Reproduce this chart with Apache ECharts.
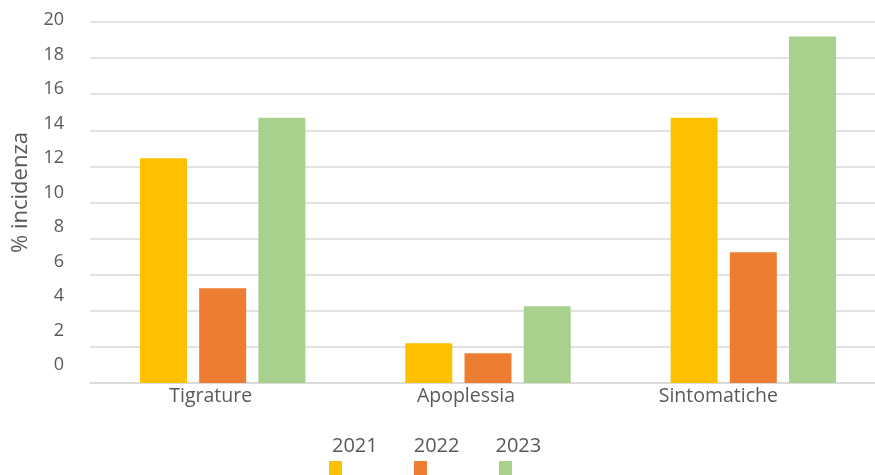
<!DOCTYPE html>
<html>
<head>
<meta charset="utf-8">
<script src="https://cdn.jsdelivr.net/npm/echarts@6/dist/echarts.min.js"></script>
<style>
  html, body { margin: 0; padding: 0; background: #fff; overflow: hidden; }
  #main { width: 890px; height: 475px; }
</style>
</head>
<body>
<div id="main"></div>
<script>
  // categorie e valori (% incidenza)
  const categories = ['Tigrature', 'Apoplessia', 'Sintomatiche'];
  const years = ['2021', '2022', '2023'];
  const v2021 = [12.45, 2.2, 14.7];
  const v2022 = [5.25, 1.65, 7.25];
  const v2023 = [14.7, 4.25, 19.2];
  const colors = ['#ffc000', '#ed7d31', '#a9d18e'];

  const chart = echarts.init(document.getElementById('main'));
  const txt = '#595959';
  const font = '"Open Sans", "Liberation Sans", sans-serif';

  const option = {
    animation: false,
    color: colors,
    textStyle: { fontFamily: font },
    grid: [
      { left: 90, top: 22, width: 796, height: 361 },
      // griglia solo per le etichette dell'asse y
      { left: 72, top: 20, width: 1, height: 345 }
    ],
    xAxis: [
      {
        type: 'category',
        gridIndex: 0,
        data: categories,
        axisLine: { lineStyle: { color: '#d9d9d9', width: 1.5 } },
        axisTick: { show: false },
        axisLabel: {
          color: txt, fontSize: 19.5, margin: 3,
          formatter: (v, i) => '{c' + i + '|' + v + '}',
          rich: {
            c0: { padding: [0, 24, 0, 0], color: txt, fontSize: 19.5 },
            c1: { padding: [0, 44, 0, 0], color: txt, fontSize: 19.5 },
            c2: { padding: [0, 70, 0, 0], color: txt, fontSize: 19.5 }
          }
        }
      },
      { type: 'value', gridIndex: 1, show: false }
    ],
    yAxis: [
      {
        type: 'value',
        gridIndex: 0,
        min: 0, max: 20, interval: 2,
        axisLabel: { show: false },
        axisLine: { show: false },
        axisTick: { show: false },
        splitLine: { lineStyle: { color: '#d9d9d9', width: 1.5 } }
      },
      {
        type: 'value',
        gridIndex: 1,
        min: 0, max: 20, interval: 2,
        name: '% incidenza',
        nameLocation: 'middle',
        nameGap: 40,
        nameTextStyle: { color: txt, fontSize: 22 },
        axisLabel: { color: txt, fontSize: 18, margin: 8 },
        axisLine: { show: false },
        axisTick: { show: false },
        splitLine: { show: false }
      }
    ],
    legend: [
      {
        data: years,
        left: 322, top: 431,
        itemWidth: 0, itemHeight: 0,
        itemGap: 31,
        icon: 'rect',
        selectedMode: false,
        textStyle: { color: txt, fontSize: 20 }
      },
      {
        data: years,
        left: 324, top: 456,
        itemWidth: 13, itemHeight: 14,
        itemGap: 72,
        icon: 'rect',
        selectedMode: false,
        formatter: () => '',
        textStyle: { fontSize: 1 }
      }
    ],
    series: [
      { name: '2021', type: 'bar', data: v2021, barWidth: 47, barGap: '26%' },
      { name: '2022', type: 'bar', data: v2022, barWidth: 47, barGap: '26%' },
      { name: '2023', type: 'bar', data: v2023, barWidth: 47, barGap: '26%' }
    ]
  };
  chart.setOption(option);
</script>
</body>
</html>
